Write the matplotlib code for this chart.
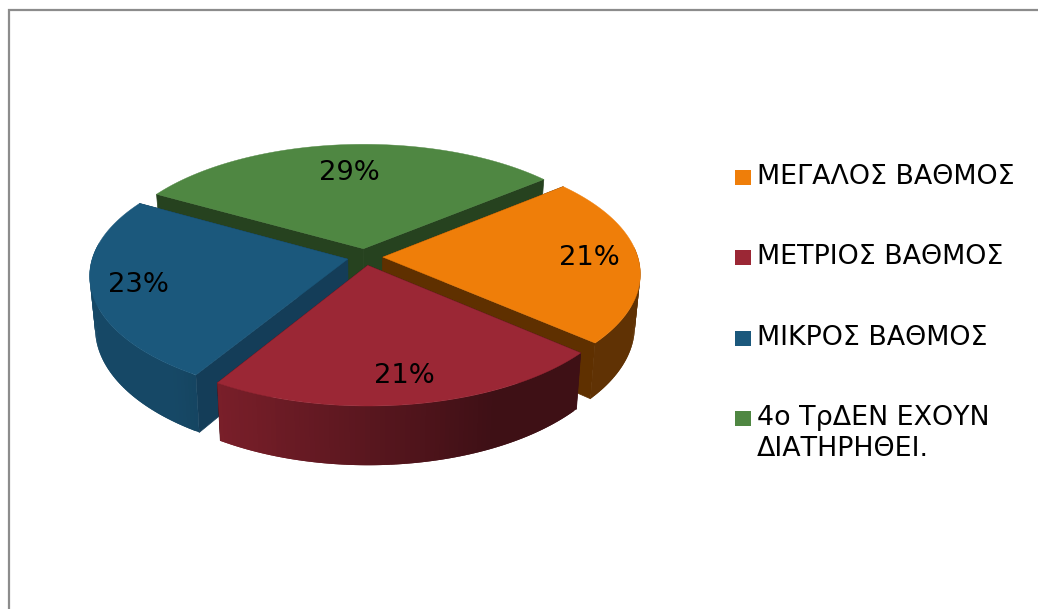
import numpy as np
import matplotlib
matplotlib.use("Agg")
import matplotlib.pyplot as plt
from matplotlib.patches import Rectangle

categories = ['ΜΕΓΑΛΟΣ ΒΑΘΜΟΣ', 'ΜΕΤΡΙΟΣ ΒΑΘΜΟΣ', 'ΜΙΚΡΟΣ ΒΑΘΜΟΣ', '4ο ΤρΔΕΝ ΕΧΟΥΝ\nΔΙΑΤΗΡΗΘΕΙ.']
values = [21, 21, 23, 29]
top_colors = ['#ef7e09', '#9b2735', '#1b587c', '#4f8742']
cut_colors = ['#5f3000', '#3e0f17', '#143d58', '#26421f']
label_radius = [0.81, 0.82, 0.82, 0.70]
draw_order = [3, 0, 2, 1]  # back to front

# screen geometry of the fake 3d pie
cx, cy = 365, 257
rx, ry = 255, 120
persp = 0.13
depth = 51
shrink = 0.98
explode = 0.07
start_angle = 39.5


def project(u, v, lower=False):
    s = 1 / (1 + persp * v)
    x = rx * u * s
    y = ry * v * s
    if lower:
        return cx + x * shrink, cy - y + depth * s
    return cx + x, cy - y


def shade(color, f):
    rgb = np.array(matplotlib.colors.to_rgb(color))
    return tuple(rgb * f)


fig = plt.figure(figsize=(10.38, 6.09), dpi=100)
ax = fig.add_axes([0, 0, 1, 1])
ax.set_xlim(0, 1038)
ax.set_ylim(609, 0)
ax.axis('off')

# chart frame, runs off the crop at right and bottom
ax.plot([8.5, 8.5, 1038], [609, 9.5, 9.5], color='#8c8c8c', lw=1.6, solid_joinstyle='miter')

spans = np.array(values) / sum(values) * 360
ends = start_angle - np.cumsum(spans)
starts = ends + spans

for i in draw_order:
    a0, a1 = starts[i], ends[i]
    mid = np.radians((a0 + a1) / 2)
    ox, oy = explode * np.cos(mid), explode * np.sin(mid)
    ang = np.radians(np.linspace(a0, a1, int(spans[i]) + 2))
    us = ox + np.cos(ang)
    vs = oy + np.sin(ang)

    # cut faces
    for k in (0, -1):
        xa, ya = project(ox, oy)
        xb, yb = project(us[k], vs[k])
        xc, yc = project(us[k], vs[k], True)
        xd, yd = project(ox, oy, True)
        ax.fill([xa, xb, xc, xd], [ya, yb, yc, yd], color=cut_colors[i], lw=0.5)

    # outer wall, strips overlap the next one so no seams show
    for k in range(len(ang) - 1):
        if np.sin(ang[k]) > 0.1:  # back of the pie, hidden
            continue
        k2 = min(k + 2, len(ang) - 1)
        xa, ya = project(us[k], vs[k])
        xb, yb = project(us[k2], vs[k2])
        xc, yc = project(us[k2], vs[k2], True)
        xd, yd = project(us[k], vs[k], True)
        f = np.clip(0.58 - 0.4 * np.cos(ang[k]), 0.4, 0.82)
        ax.fill([xa, xb, xc, xd], [ya, yb, yc, yd], facecolor=shade(top_colors[i], f), edgecolor='none')

    # top
    xs, ys = project(np.r_[ox, us], np.r_[oy, vs])
    ax.fill(xs, ys, color=top_colors[i], lw=0.3)

    tx, ty = project(ox + label_radius[i] * np.cos(mid), oy + label_radius[i] * np.sin(mid))
    ax.text(tx, ty, f'{values[i]}%', fontsize=19.7, color='black', ha='center', va='center',
            family='DejaVu Sans', zorder=5)

# legend, written by hand so the spacing matches
legend_y = [177, 257, 338, 418]
for name, color, y in zip(categories, top_colors, legend_y):
    ax.add_patch(Rectangle((735, y - 7.5), 16, 15, facecolor=color, edgecolor='none'))
    ax.text(757, y - 13, name, fontsize=19.4, color='black', ha='left', va='top',
            family='DejaVu Sans', linespacing=1.25)

fig.savefig('out.png', dpi=100, facecolor='white')
